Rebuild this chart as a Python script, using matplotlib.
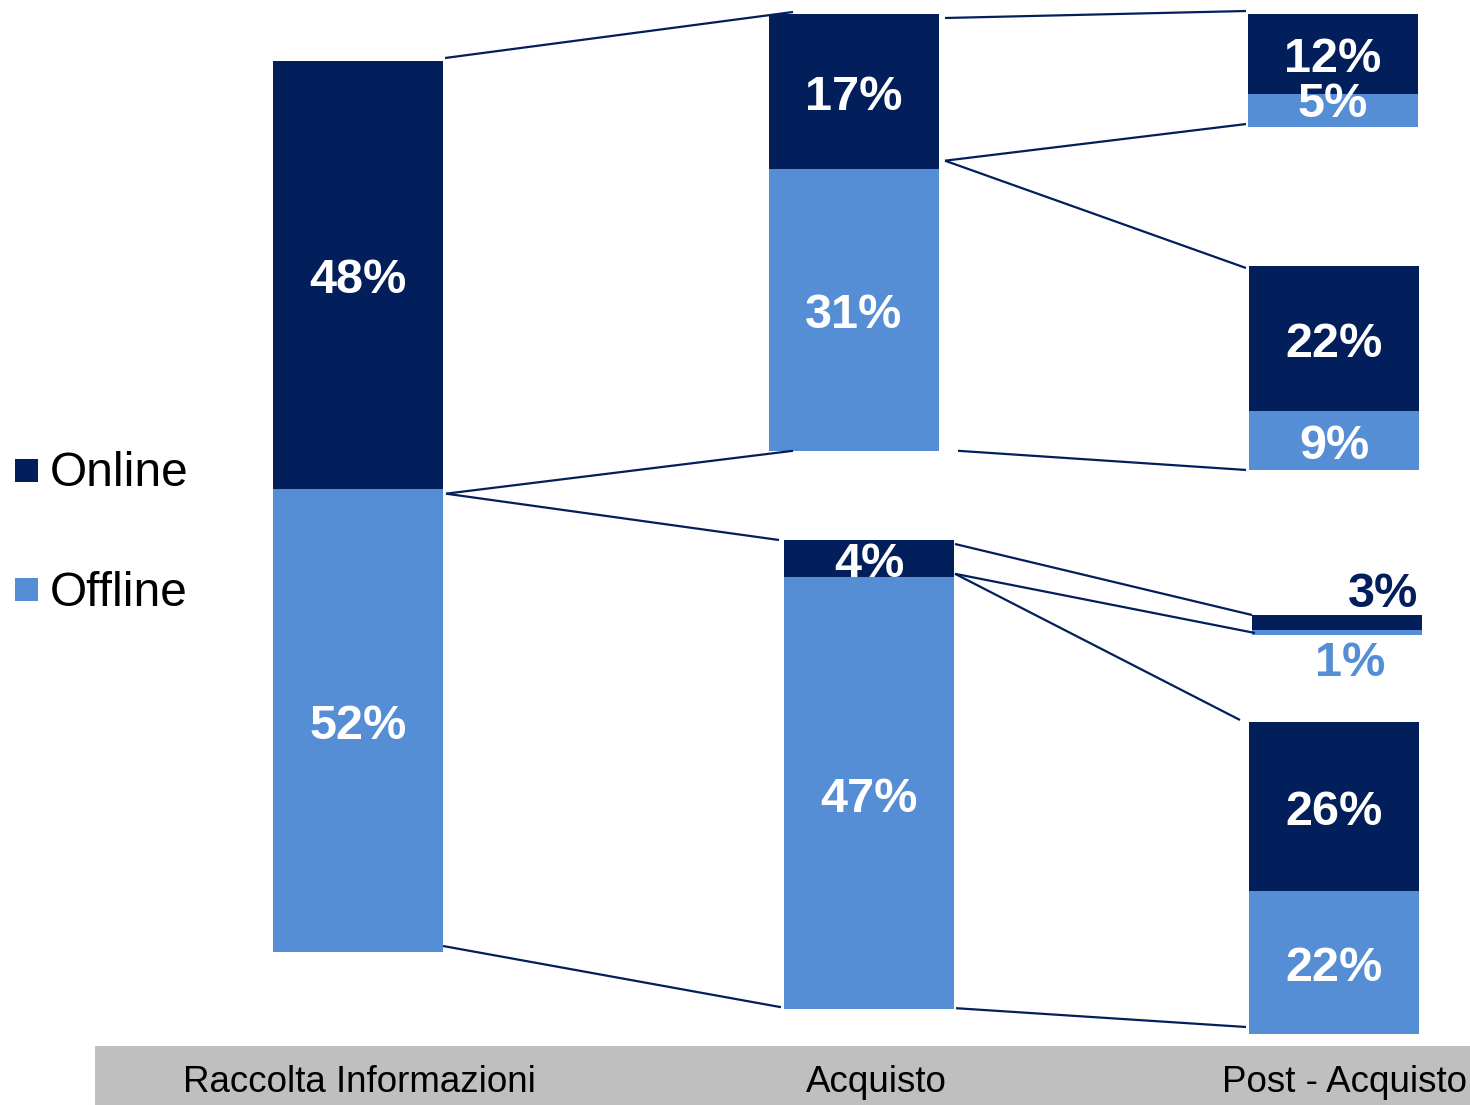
import matplotlib.pyplot as plt
from matplotlib.patches import Rectangle

# ----- Dati -----
fasi = ["Raccolta Informazioni", "Acquisto", "Post - Acquisto"]
serie = ["Online", "Offline"]

raccolta = [48, 52]
acquisto_online = [17, 31]
acquisto_offline = [4, 47]
post_1 = [12, 5]
post_2 = [22, 9]
post_3 = [3, 1]
post_4 = [26, 22]

BLU = "#021F5C"
AZZURRO = "#558ED5"
GRIGIO = "#BFBFBF"
W = 170

# ----- Gruppi: (valori, x sinistra, y alto, pixel per punto %) -----
gruppi = {
    "rac": (raccolta, 273, 61, 8.91),
    "acqA": (acquisto_online, 769, 14, 9.1),
    "acqB": (acquisto_offline, 784, 540, 9.2),
    "p1": (post_1, 1248, 14, 6.65),
    "p2": (post_2, 1249, 266, 6.58),
    "p3": (post_3, 1252, 615, 5.0),
    "p4": (post_4, 1249, 722, 6.5),
}
# spostamento verticale delle etichette (online, offline)
nudge = {"p1": (6, -6)}

plt.rcParams['font.family'] = ['Liberation Sans', 'DejaVu Sans']
fig = plt.figure(figsize=(14.7, 11.05), dpi=100)
ax = fig.add_axes([0, 0, 1, 1])
ax.set_xlim(0, 1470)
ax.set_ylim(1105, 0)
ax.axis('off')

geo = {}
for nome, (vals, x0, y0, s) in gruppi.items():
    bottoms = [y0, y0 + vals[0] * s]
    heights = [v * s for v in vals]
    ax.bar([x0, x0], heights, bottom=bottoms, width=W, align='edge',
           color=[BLU, AZZURRO], linewidth=0)
    geo[nome] = dict(left=x0, right=x0 + W, top=y0,
                     split=y0 + heights[0], bottom=y0 + sum(heights))
    if nome == "p3":
        continue
    for b, h, v, dy in zip(bottoms, heights, vals, nudge.get(nome, (6, 6))):
        ax.text(x0 + W / 2, b + h / 2 + dy, f"{v}%", ha='center',
                va='center', color='white', fontsize=35, fontweight='bold')

# etichette della barra sottile
g3 = geo["p3"]
ax.text(g3["right"] - 4, g3["top"] + 2, f"{post_3[0]}%", ha='right',
        va='bottom', color=BLU, fontsize=35, fontweight='bold')
ax.text(g3["left"] + 98, g3["bottom"] + 28, f"{post_3[1]}%", ha='center',
        va='center', color=AZZURRO, fontsize=35, fontweight='bold')

# ----- Linee di collegamento: (gruppo, punto, dx, dy) -> (gruppo, punto, dx, dy) -----
collegamenti = [
    (("rac", "top", 2, -3), ("acqA", "top", 24, -2)),
    (("rac", "split", 3, 5), ("acqA", "bottom", 24, 0)),
    (("rac", "split", 3, 5), ("acqB", "top", -5, 0)),
    (("rac", "bottom", 0, -6), ("acqB", "bottom", -3, -2)),
    (("acqA", "top", 6, 4), ("p1", "top", -2, -3)),
    (("acqA", "split", 6, -8), ("p1", "bottom", -2, -3)),
    (("acqA", "split", 6, -8), ("p2", "top", -3, 2)),
    (("acqA", "bottom", 19, 0), ("p2", "bottom", -3, 0)),
    (("acqB", "top", 1, 4), ("p3", "top", 0, 0)),
    (("acqB", "split", 1, -3), ("p3", "bottom", 3, -2)),
    (("acqB", "split", 1, -3), ("p4", "top", -9, -2)),
    (("acqB", "bottom", 2, -1), ("p4", "bottom", -3, -7)),
]
for (ga, pa, dxa, dya), (gb, pb, dxb, dyb) in collegamenti:
    xa = geo[ga]["right"] + dxa
    ya = geo[ga][pa] + dya
    xb = geo[gb]["left"] + dxb
    yb = geo[gb][pb] + dyb
    ax.plot([xa, xb], [ya, yb], color=BLU, lw=1.6, solid_capstyle='butt')

# ----- Legenda -----
for i, (nome, col) in enumerate(zip(serie, [BLU, AZZURRO])):
    y = 470 + i * 119
    ax.add_patch(Rectangle((15, y - 11.5), 23, 23, color=col, lw=0))
    ax.text(50, y + 4, nome, ha='left', va='center', fontsize=34.5,
            color='black')

# ----- Fascia delle fasi -----
ax.add_patch(Rectangle((95, 1046), 1375, 59, color=GRIGIO, lw=0))
for nome, xc in zip(fasi, [359, 876, 1345]):
    ax.text(xc, 1083, nome, ha='center', va='center', fontsize=26.5,
            color='black')

fig.savefig("out.png", dpi=100)
